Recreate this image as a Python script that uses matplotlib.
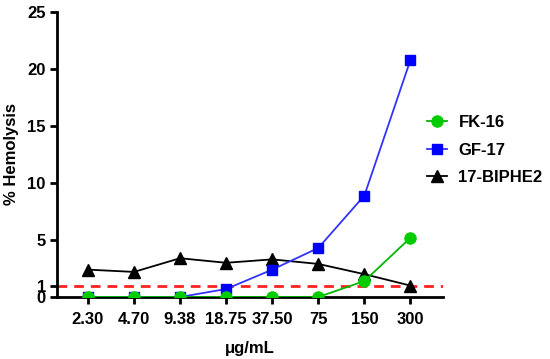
import matplotlib
matplotlib.use("Agg")
import matplotlib.pyplot as plt

# concentrations (categorical x axis)
conc_labels = ["2.30", "4.70", "9.38", "18.75", "37.50", "75", "150", "300"]

# % hemolysis
fk16 = [0, 0, 0, 0, 0, 0, 1.4, 5.2]
gf17 = [0, 0, 0, 0.7, 2.4, 4.3, 8.9, 20.8]
biphe2 = [2.4, 2.2, 3.4, 3.0, 3.3, 2.9, 2.0, 1.0]

threshold = 1
y_ticks = [0, 1, 5, 10, 15, 20, 25]

plt.rcParams['font.family'] = ['Liberation Sans', 'DejaVu Sans']
plt.rcParams['font.weight'] = 'bold'

fig = plt.figure(figsize=(5.5, 3.59), dpi=100)
ax = fig.add_axes([0.1036, 0.1727, 0.7014, 0.794])

x = list(range(len(conc_labels)))

ax.axhline(threshold, color='#ff2020', lw=2, ls=(0, (3.5, 2.5)), zorder=1)

ax.plot(x, biphe2, color='black', lw=1.3, marker='^', ms=8, label='17-BIPHE2', zorder=3)
ax.plot(x, gf17, color='#3333ff', lw=1.3, marker='s', ms=7.5, mfc='#0000ff', mec='#0000ff',
        label='GF-17', zorder=4)
ax.plot(x, fk16, color='#00b800', lw=1.3, marker='o', ms=8, mfc='#00cc00', mec='#00cc00',
        label='FK-16', zorder=5)

ax.set_xlim(-0.67, 7.7)
ax.set_ylim(0, 25)
ax.set_xticks(x)
ax.set_xticklabels(conc_labels)
ax.set_yticks(y_ticks)

for side in ['top', 'right']:
    ax.spines[side].set_visible(False)
for side in ['left', 'bottom']:
    ax.spines[side].set_linewidth(2)
ax.spines['bottom'].set_zorder(2)

ax.tick_params(axis='both', width=2, length=5, labelsize=12, pad=3)
ax.tick_params(axis='x', pad=6)
for lab in ax.get_xticklabels() + ax.get_yticklabels():
    lab.set_fontweight('bold')

ax.set_ylabel('% Hemolysis', fontsize=12, fontweight='bold', labelpad=6)
ax.set_xlabel('\u03bcg/mL', fontsize=12, fontweight='bold', labelpad=10)

handles, labels = ax.get_legend_handles_labels()
order = [2, 1, 0]
fig.legend([handles[i] for i in order], [labels[i] for i in order],
           loc='center left', bbox_to_anchor=(0.776, 0.582), frameon=False,
           borderpad=0, borderaxespad=0, handlelength=1.2, handletextpad=0.7,
           labelspacing=0.75, prop={'size': 12, 'weight': 'bold'})

fig.savefig('out.png', dpi=100)
